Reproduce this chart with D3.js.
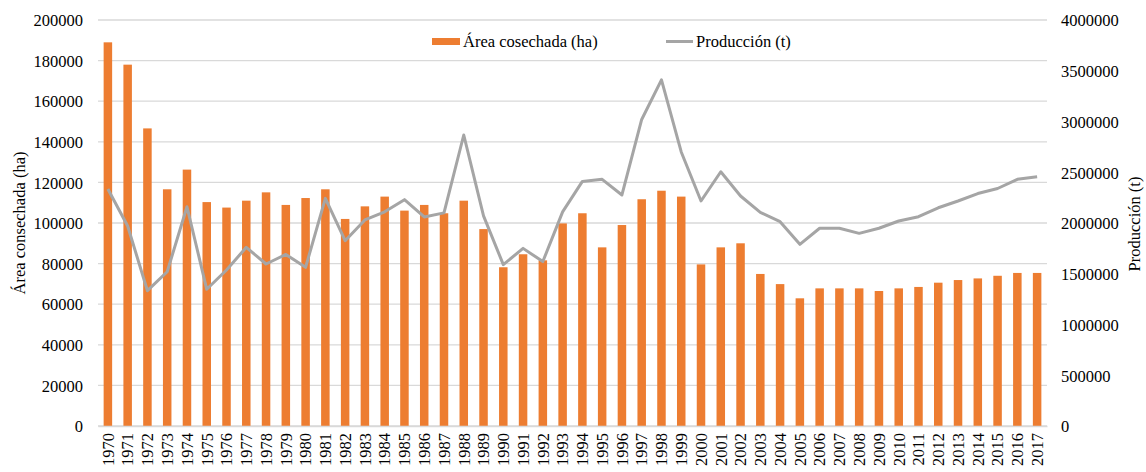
<!DOCTYPE html>
<html>
<head>
<script src="https://cdn.jsdelivr.net/npm/d3@7"></script>
<style>
    body{margin:0;background:#fff;}
    svg text{fill:#000;font-family:"Liberation Serif","Times New Roman",serif;}
</style>
</head>
<body>
<div id="chart"></div>
<script>

var years = ["1970","1971","1972","1973","1974","1975","1976","1977","1978","1979",
    "1980","1981","1982","1983","1984","1985","1986","1987","1988","1989",
    "1990","1991","1992","1993","1994","1995","1996","1997","1998","1999",
    "2000","2001","2002","2003","2004","2005","2006","2007","2008","2009",
    "2010","2011","2012","2013","2014","2015","2016","2017"]

// área cosechada (ha)
var area = [189000,178000,146600,116600,126300,110300,107600,111000,115100,108900,
    112300,116600,102000,108200,113000,106100,108900,104800,111000,97000,
    78200,84600,81600,99800,104800,88000,99000,111700,115900,113000,
    79600,88000,90000,74900,69900,62900,67800,67800,67800,66500,
    67800,68500,70600,71900,72700,74000,75400,75400]

// producción (t)
var produccion = [2335000,1970000,1333000,1520000,2160000,1347000,1537000,1760000,1596000,1690000,
    1563000,2243000,1826000,2030000,2110000,2230000,2060000,2100000,2867000,2070000,
    1590000,1750000,1620000,2110000,2410000,2430000,2276000,3020000,3410000,2700000,
    2217000,2505000,2266000,2105000,2013000,1790000,1948000,1948000,1898000,1948000,
    2020000,2062000,2150000,2217000,2290000,2340000,2430000,2456000]

var leftTicks = [0,20000,40000,60000,80000,100000,120000,140000,160000,180000,200000]
var rightTicks = [0,500000,1000000,1500000,2000000,2500000,3000000,3500000,4000000]

var W = 1146, H = 472
var plotL = 98, plotR = 1047, plotT = 20, plotB = 426
var orange = "#ED7D31", gray = "#A5A5A5", gridColor = "#D9D9D9"
var fontSize = 16.5
var serif = "'Liberation Serif','Times New Roman',serif"

var svg = d3.select("#chart").append("svg")
    .attr("width",W).attr("height",H)

var x = d3.scaleBand().domain(years).range([plotL,plotR]).paddingInner(0.57).paddingOuter(0.285)
var yL = d3.scaleLinear().domain([0,200000]).range([plotB,plotT])
var yR = d3.scaleLinear().domain([0,4000000]).range([plotB,plotT])

// gridlines
svg.append("g").selectAll("line")
    .data(leftTicks)
    .enter().append("line")
    .attr("x1",plotL).attr("x2",plotR)
    .attr("y1",function(d){return yL(d)}).attr("y2",function(d){return yL(d)})
    .attr("stroke",gridColor).attr("stroke-width",1.3)

// left axis
var axL = svg.append("g").attr("transform","translate("+(plotL-15)+",0)")
    .call(d3.axisLeft(yL).tickValues(leftTicks).tickSize(0).tickPadding(0).tickFormat(d3.format("d")))
axL.select(".domain").remove()
axL.selectAll("text").style("font-size",fontSize+"px").style("font-family",serif).attr("dy","0.35em")

// right axis
var axR = svg.append("g").attr("transform","translate("+(plotR+14)+",0)")
    .call(d3.axisRight(yR).tickValues(rightTicks).tickSize(0).tickPadding(0).tickFormat(d3.format("d")))
axR.select(".domain").remove()
axR.selectAll("text").style("font-size",fontSize+"px").style("font-family",serif).attr("dy","0.35em")

// bars
svg.append("g").selectAll("rect")
    .data(area)
    .enter().append("rect")
    .attr("x",function(d,i){return x(years[i])})
    .attr("y",function(d){return yL(d)})
    .attr("width",x.bandwidth())
    .attr("height",function(d){return yL(0)-yL(d)})
    .attr("fill",orange)

// line
var line = d3.line()
    .x(function(d,i){return x(years[i])+x.bandwidth()/2})
    .y(function(d){return yR(d)})

svg.append("path")
    .datum(produccion)
    .attr("d",line)
    .attr("fill","none")
    .attr("stroke",gray)
    .attr("stroke-width",3)
    .attr("stroke-linejoin","round")

// x axis labels
var axX = svg.append("g").attr("transform","translate(0,"+plotB+")")
    .call(d3.axisBottom(x).tickSize(0).tickPadding(0))
axX.select(".domain").attr("stroke",gridColor).attr("stroke-width",1.3)
axX.selectAll("text")
    .style("font-size",fontSize+"px").style("font-family",serif)
    .attr("text-anchor","end")
    .attr("transform","rotate(-90)")
    .attr("x",-7).attr("y",0).attr("dy","0.35em")

// axis titles
svg.append("text")
    .attr("transform","translate(19,223) rotate(-90)")
    .attr("text-anchor","middle").attr("dy","0.35em")
    .style("font-size",fontSize+"px")
    .text("Área consechada (ha)")

svg.append("text")
    .attr("transform","translate(1134,224) rotate(-90)")
    .attr("text-anchor","middle").attr("dy","0.35em")
    .style("font-size",fontSize+"px")
    .text("Producción (t)")

// legend
var leg = svg.append("g")
leg.append("rect").attr("x",432).attr("y",38).attr("width",28).attr("height",7).attr("fill",orange)
leg.append("text").attr("x",463).attr("y",41.5).attr("dy","0.35em").style("font-size",fontSize+"px").text("Área cosechada (ha)")
leg.append("line").attr("x1",666).attr("x2",693).attr("y1",41.5).attr("y2",41.5).attr("stroke",gray).attr("stroke-width",3)
leg.append("text").attr("x",696).attr("y",41.5).attr("dy","0.35em").style("font-size",fontSize+"px").text("Producción (t)")

</script>
</body>
</html>
